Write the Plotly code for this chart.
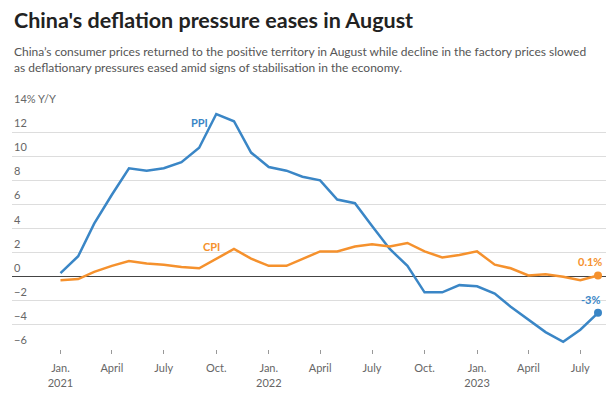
import plotly.graph_objects as go

months = [f"{y}-{m:02d}-01" for y in (2021, 2022, 2023) for m in range(1, 13)][:32]

ppi = [0.3, 1.7, 4.4, 6.8, 9.0, 8.8, 9.0, 9.5, 10.7, 13.5, 12.9, 10.3,
       9.1, 8.8, 8.3, 8.0, 6.4, 6.1, 4.2, 2.3, 0.9, -1.3, -1.3, -0.7,
       -0.8, -1.4, -2.5, -3.6, -4.6, -5.4, -4.4, -3.0]
cpi = [-0.3, -0.2, 0.4, 0.9, 1.3, 1.1, 1.0, 0.8, 0.7, 1.5, 2.3, 1.5,
       0.9, 0.9, 1.5, 2.1, 2.1, 2.5, 2.7, 2.5, 2.8, 2.1, 1.6, 1.8,
       2.1, 1.0, 0.7, 0.1, 0.2, 0.0, -0.3, 0.1]

x_tickvals = ["2021-01-01", "2021-04-01", "2021-07-01", "2021-10-01",
              "2022-01-01", "2022-04-01", "2022-07-01", "2022-10-01",
              "2023-01-01", "2023-04-01", "2023-07-01"]
x_ticktext = ["Jan.<br>2021", "April", "July", "Oct.",
              "Jan.<br>2022", "April", "July", "Oct.",
              "Jan.<br>2023", "April", "July"]
y_tickvals = [14, 12, 10, 8, 6, 4, 2, 0, -2, -4, -6]
y_ticktext = ["14% Y/Y", "12", "10", "8", "6", "4", "2", "0", "\u22122", "\u22124", "\u22126"]

BLUE = "#3a86c6"
ORANGE = "#f5912d"
FONT = "Lato"

fig = go.Figure()
fig.add_trace(go.Scatter(x=months, y=ppi, mode="lines", line=dict(color=BLUE, width=2.5),
                         hoverinfo="skip"))
fig.add_trace(go.Scatter(x=months, y=cpi, mode="lines", line=dict(color=ORANGE, width=2.5),
                         hoverinfo="skip"))
fig.add_trace(go.Scatter(x=[months[-1]], y=[ppi[-1]], mode="markers",
                         marker=dict(color=BLUE, size=8), hoverinfo="skip"))
fig.add_trace(go.Scatter(x=[months[-1]], y=[cpi[-1]], mode="markers",
                         marker=dict(color=ORANGE, size=8), hoverinfo="skip"))

ann = []
for v, t in zip(y_tickvals, y_ticktext):
    ann.append(dict(xref="paper", yref="y", x=0, y=v, text=t, showarrow=False,
                    xanchor="left", yanchor="bottom", yshift=1,
                    font=dict(family=FONT, size=11, color="#666666")))
ann += [
    dict(xref="x", yref="y", x="2021-09-01", y=12.8, text="<b>PPI</b>", showarrow=False,
         font=dict(family=FONT, size=11, color=BLUE)),
    dict(xref="x", yref="y", x="2021-09-22", y=2.5, text="<b>CPI</b>", showarrow=False,
         font=dict(family=FONT, size=11, color=ORANGE)),
    dict(xref="x", yref="y", x="2023-07-18", y=1.3, text="<b>0.1%</b>", showarrow=False,
         font=dict(family=FONT, size=11, color=ORANGE)),
    dict(xref="x", yref="y", x="2023-07-20", y=-1.9, text="<b>-3%</b>", showarrow=False,
         font=dict(family=FONT, size=11, color=BLUE)),
]

fig.update_layout(
    width=613, height=405,
    margin=dict(l=12, r=7, t=108, b=56),
    paper_bgcolor="white", plot_bgcolor="white",
    showlegend=False,
    annotations=ann,
    font=dict(family=FONT),
    xaxis=dict(range=["2020-10-08", "2023-08-15"], tickvals=x_tickvals, ticktext=x_ticktext,
               showgrid=False, zeroline=False, ticks="outside", ticklen=4, tickcolor="#999999",
               tickfont=dict(family=FONT, size=11, color="#666666"), showline=False,
               ticklabelstandoff=5, fixedrange=True),
    yaxis=dict(range=[-6, 14], tickvals=y_tickvals, showticklabels=False,
               showgrid=True, gridcolor="#dddddd", gridwidth=1, zeroline=True,
               zerolinecolor="#444444", zerolinewidth=1, fixedrange=True),
)

fig.add_annotation(xref="paper", yref="paper", x=0, y=1 + (108 - 20) / 241,
                   text="<b>China's deflation pressure eases in August</b>", showarrow=False,
                   xanchor="left", yanchor="middle",
                   font=dict(family=FONT, size=21.5, color="#222222"))
fig.add_annotation(xref="paper", yref="paper", x=0, y=1 + (108 - 59) / 241,
                   text="China\u2019s consumer prices returned to the positive territory in August while decline in the factory prices slowed<br>as deflationary pressures eased amid signs of stabilisation in the economy.",
                   showarrow=False, xanchor="left", yanchor="middle", align="left",
                   font=dict(family=FONT, size=12, color="#555555"))

fig.write_html("out.html", config={"displayModeBar": False},
               post_script="document.body.style.margin='0';")
